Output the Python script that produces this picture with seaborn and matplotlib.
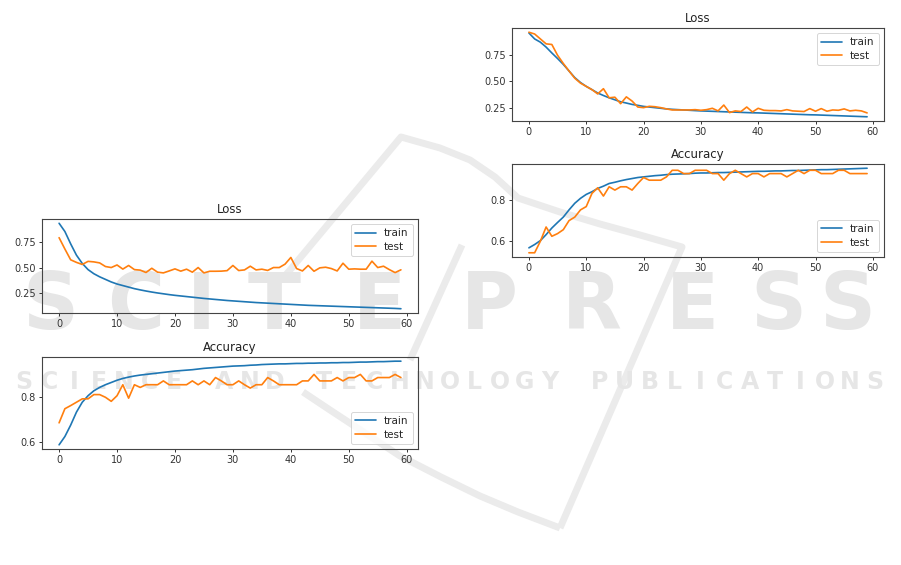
import matplotlib
matplotlib.use("Agg")
import matplotlib.pyplot as plt
from matplotlib.lines import Line2D
import seaborn as sns
import pandas as pd

epochs = list(range(60))

# ---- left figure ----
left_loss_train = [0.93, 0.85, 0.73, 0.62, 0.54, 0.48, 0.44, 0.41, 0.385, 0.36,
                   0.34, 0.325, 0.31, 0.295, 0.283, 0.272, 0.262, 0.253, 0.245, 0.237,
                   0.23, 0.224, 0.218, 0.212, 0.206, 0.2, 0.195, 0.19, 0.185, 0.18,
                   0.176, 0.172, 0.168, 0.164, 0.16, 0.157, 0.154, 0.151, 0.148, 0.145,
                   0.142, 0.139, 0.136, 0.133, 0.131, 0.129, 0.127, 0.125, 0.123, 0.121,
                   0.119, 0.117, 0.115, 0.113, 0.111, 0.109, 0.107, 0.105, 0.103, 0.1]
left_loss_test = [0.79, 0.68, 0.575, 0.55, 0.53, 0.56, 0.555, 0.545, 0.51, 0.50,
                  0.525, 0.485, 0.52, 0.48, 0.475, 0.452, 0.493, 0.455, 0.448, 0.467,
                  0.487, 0.465, 0.484, 0.455, 0.50, 0.448, 0.464, 0.464, 0.465, 0.47,
                  0.52, 0.471, 0.477, 0.513, 0.477, 0.484, 0.472, 0.50, 0.50, 0.533,
                  0.598, 0.49, 0.467, 0.52, 0.464, 0.497, 0.503, 0.49, 0.467, 0.542,
                  0.484, 0.487, 0.484, 0.484, 0.562, 0.50, 0.513, 0.48, 0.451, 0.478]
left_acc_train = [0.588, 0.625, 0.676, 0.734, 0.778, 0.807, 0.829, 0.844, 0.856, 0.866,
                  0.876, 0.884, 0.89, 0.895, 0.899, 0.902, 0.905, 0.908, 0.911, 0.914,
                  0.917, 0.919, 0.921, 0.923, 0.926, 0.929, 0.931, 0.933, 0.935, 0.937,
                  0.939, 0.940, 0.941, 0.943, 0.944, 0.946, 0.947, 0.948, 0.949, 0.949,
                  0.950, 0.951, 0.951, 0.952, 0.952, 0.953, 0.953, 0.954, 0.954, 0.955,
                  0.955, 0.956, 0.957, 0.957, 0.958, 0.959, 0.959, 0.960, 0.961, 0.961]
left_acc_test = [0.686, 0.749, 0.763, 0.778, 0.793, 0.793, 0.812, 0.812, 0.80, 0.782,
                 0.807, 0.856, 0.796, 0.856, 0.844, 0.856, 0.856, 0.856, 0.873, 0.856,
                 0.856, 0.856, 0.856, 0.873, 0.856, 0.873, 0.856, 0.888, 0.873, 0.856,
                 0.856, 0.873, 0.856, 0.841, 0.856, 0.856, 0.888, 0.873, 0.856, 0.856,
                 0.856, 0.856, 0.873, 0.873, 0.902, 0.873, 0.873, 0.873, 0.888, 0.873,
                 0.888, 0.888, 0.902, 0.873, 0.873, 0.888, 0.888, 0.888, 0.902, 0.888]

# ---- right figure ----
right_loss_train = [0.963, 0.906, 0.875, 0.828, 0.772, 0.719, 0.663, 0.60, 0.537, 0.49,
                    0.453, 0.422, 0.39, 0.366, 0.344, 0.325, 0.306, 0.294, 0.281, 0.272,
                    0.262, 0.256, 0.25, 0.244, 0.238, 0.234, 0.231, 0.228, 0.225, 0.222,
                    0.219, 0.217, 0.215, 0.213, 0.211, 0.209, 0.207, 0.205, 0.203, 0.201,
                    0.2, 0.198, 0.196, 0.194, 0.192, 0.19, 0.188, 0.186, 0.184, 0.182,
                    0.181, 0.179, 0.177, 0.175, 0.173, 0.171, 0.169, 0.167, 0.165, 0.163]
right_loss_test = [0.97, 0.953, 0.906, 0.859, 0.853, 0.75, 0.672, 0.60, 0.531, 0.484,
                   0.453, 0.422, 0.381, 0.431, 0.344, 0.35, 0.288, 0.353, 0.313, 0.256,
                   0.25, 0.263, 0.259, 0.25, 0.238, 0.228, 0.228, 0.228, 0.228, 0.231,
                   0.225, 0.231, 0.244, 0.219, 0.275, 0.203, 0.219, 0.213, 0.256, 0.209,
                   0.244, 0.225, 0.222, 0.222, 0.219, 0.231, 0.219, 0.216, 0.213, 0.241,
                   0.216, 0.241, 0.216, 0.228, 0.225, 0.238, 0.219, 0.225, 0.219, 0.20]
right_acc_train = [0.568, 0.584, 0.603, 0.632, 0.664, 0.691, 0.717, 0.752, 0.784, 0.808,
                   0.827, 0.84, 0.856, 0.867, 0.88, 0.886, 0.893, 0.899, 0.904, 0.909,
                   0.912, 0.915, 0.918, 0.920, 0.923, 0.925, 0.926, 0.927, 0.928, 0.930,
                   0.931, 0.931, 0.932, 0.933, 0.933, 0.934, 0.935, 0.936, 0.937, 0.938,
                   0.939, 0.939, 0.940, 0.941, 0.941, 0.942, 0.943, 0.943, 0.944, 0.945,
                   0.946, 0.947, 0.947, 0.948, 0.949, 0.950, 0.951, 0.952, 0.953, 0.954]
right_acc_test = [0.544, 0.544, 0.60, 0.669, 0.624, 0.637, 0.656, 0.70, 0.717, 0.752,
                  0.768, 0.832, 0.859, 0.819, 0.864, 0.848, 0.864, 0.864, 0.848, 0.88,
                  0.909, 0.896, 0.896, 0.896, 0.912, 0.944, 0.944, 0.928, 0.928, 0.944,
                  0.944, 0.944, 0.928, 0.928, 0.896, 0.928, 0.944, 0.928, 0.912, 0.928,
                  0.928, 0.912, 0.928, 0.928, 0.928, 0.912, 0.928, 0.944, 0.928, 0.944,
                  0.944, 0.928, 0.928, 0.928, 0.944, 0.944, 0.928, 0.928, 0.928, 0.928]

series_names = ["train", "test"]
titles = ["Loss", "Accuracy"]

sns.set_style("ticks")
plt.rcParams["font.family"] = ["DejaVu Sans"]

W, H = 901, 565
fig = plt.figure(figsize=(W / 100, H / 100), dpi=100)
fig.patch.set_facecolor("white")

palette = {"train": "#1f77b4", "test": "#ff7f0e"}


def rect(x0, y0, x1, y1):
    return [x0 / W, 1 - y1 / H, (x1 - x0) / W, (y1 - y0) / H]


panels = [
    (rect(42, 219, 418, 313), titles[0], left_loss_train, left_loss_test, "upper right"),
    (rect(42, 357, 418, 449), titles[1], left_acc_train, left_acc_test, "lower right"),
    (rect(512, 28, 884, 121), titles[0], right_loss_train, right_loss_test, "upper right"),
    (rect(512, 164, 884, 257), titles[1], right_acc_train, right_acc_test, "lower right"),
]

# ---- faint publisher watermark, drawn behind transparent axes ----
wm_color = "#e6e6e6"
logo_color = "#ebebeb"


def px_line(pts, lw=5.0):
    xs = [p[0] / W for p in pts]
    ys = [1 - p[1] / H for p in pts]
    fig.add_artist(Line2D(xs, ys, transform=fig.transFigure, color=logo_color,
                          lw=lw, solid_capstyle="butt", solid_joinstyle="round",
                          zorder=-6))


px_line([(285, 276), (401, 137), (440, 148), (470, 160), (495, 177), (518, 198),
         (560, 212), (600, 224), (640, 235), (682, 247), (560, 528)])
px_line([(560, 528), (518, 512), (480, 496), (441, 477), (400, 456), (365, 433),
         (330, 410), (303, 392)])
px_line([(462, 245), (410, 360)])

wm_letters = "SCITEPRESS"
wm_centers = [50, 136, 201, 274, 379, 489, 592, 692, 778, 847]
for ch, cx in zip(wm_letters, wm_centers):
    fig.text(cx / W, 1 - 307 / H, ch, fontsize=56, fontweight="bold",
             color=wm_color, ha="center", va="center", zorder=-5)
wm2 = "SCIENCE AND TECHNOLOGY PUBLICATIONS"
n2 = len(wm2)
for i, ch in enumerate(wm2):
    cx = 24 + i * (875 - 24) / (n2 - 1)
    fig.text(cx / W, 1 - 382 / H, ch, fontsize=17, fontweight="bold",
             color=wm_color, ha="center", va="center", zorder=-5)

for r, title, tr, te, loc in panels:
    ax = fig.add_axes(r)
    ax.patch.set_alpha(0)
    df = pd.DataFrame({
        "epoch": epochs * 2,
        "value": list(tr) + list(te),
        "series": [series_names[0]] * len(tr) + [series_names[1]] * len(te),
    })
    sns.lineplot(data=df, x="epoch", y="value", hue="series", palette=palette,
                 linewidth=1.2, ax=ax)
    ax.set_xlabel("")
    ax.set_ylabel("")
    ax.set_xticks([0, 10, 20, 30, 40, 50, 60])
    ax.margins(x=0.05, y=0.05)
    ax.set_xlim(-2.95, 61.95)
    if title == "Loss":
        ax.set_yticks([0.25, 0.5, 0.75])
        ax.set_yticklabels(["0.25", "0.50", "0.75"])
    else:
        ax.set_yticks([0.6, 0.8])
        ax.set_yticklabels(["0.6", "0.8"])
    ax.set_title(title, fontsize=8.5, pad=4, color="#222222")
    ax.tick_params(labelsize=7, length=2.5, width=0.7, colors="#333333", pad=2)
    for s in ax.spines.values():
        s.set_visible(True)
        s.set_linewidth(0.8)
        s.set_color("#444444")
    leg = ax.legend(loc=loc, fontsize=7.5, frameon=True, handlelength=2.0,
                    borderpad=0.4, labelspacing=0.35, handletextpad=0.8)
    leg.get_frame().set_edgecolor("#cccccc")
    leg.get_frame().set_linewidth(0.7)

fig.savefig("out.png", dpi=100, facecolor="white")
